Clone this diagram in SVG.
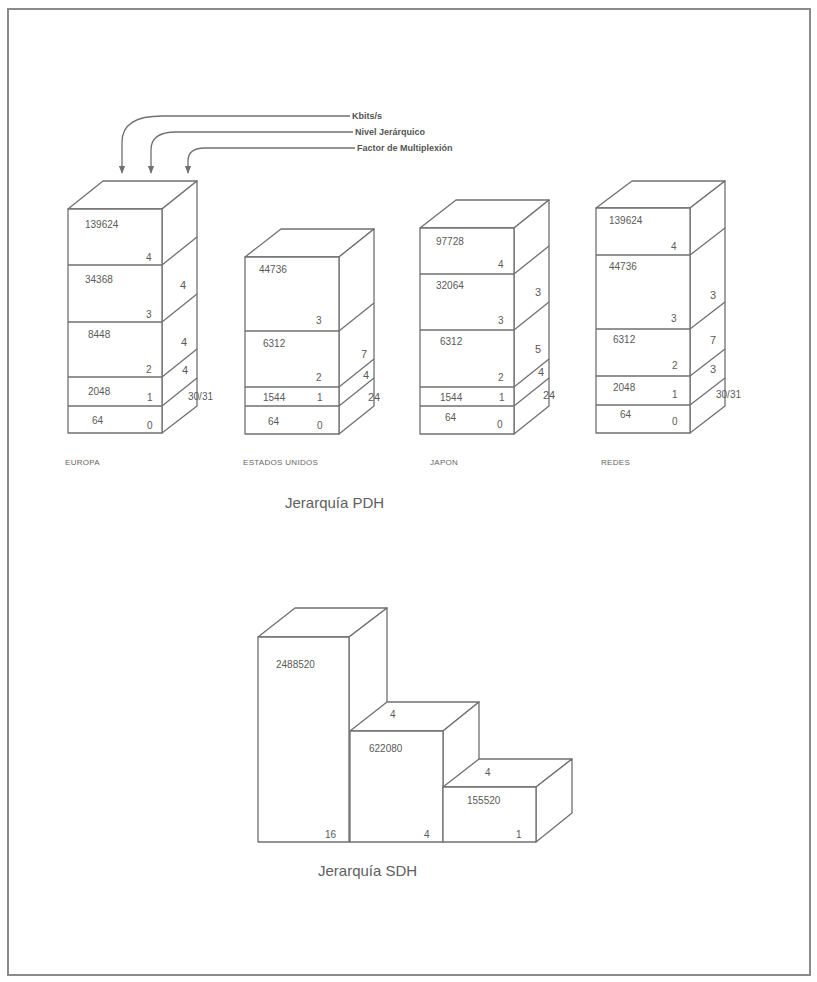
<svg xmlns="http://www.w3.org/2000/svg" width="817" height="982" viewBox="0 0 817 982">
<defs>
<style>
.ln{fill:none;stroke:#707070;stroke-width:1.3;stroke-linejoin:round}
.bx{fill:#fff;stroke:#707070;stroke-width:1.3;stroke-linejoin:round}
.t{font-family:"Liberation Sans",Arial,sans-serif;font-size:10px;fill:#5a5a5a}
.r{font-family:"Liberation Sans",Arial,sans-serif;font-size:11px;fill:#5a5a5a}
.lab{font-family:"Liberation Sans",Arial,sans-serif;font-size:8px;fill:#666;letter-spacing:0.3px}
.hd{font-family:"Liberation Sans",Arial,sans-serif;font-size:9px;font-weight:bold;fill:#555}
.ttl{font-family:"Liberation Sans",Arial,sans-serif;font-size:15px;fill:#606060}
</style>
<marker id="ah" viewBox="0 0 10 10" refX="9" refY="5" markerWidth="7" markerHeight="6" orient="auto">
<path d="M0,1 L10,5 L0,9 z" fill="#707070"/>
</marker>
</defs>
<rect x="0" y="0" width="817" height="982" fill="#fff"/>
<rect x="8" y="9" width="802" height="966" fill="none" stroke="#8a8a8a" stroke-width="2"/>

<g id="connectors">
<path class="ln" d="M350,116 H162 C136,116 122,124 122,142 V173" marker-end="url(#ah)"/>
<path class="ln" d="M353,132 H176 C160,132 151,138 151,150 V173" marker-end="url(#ah)"/>
<path class="ln" d="M355,148 H205 C194,148 188,152 188,161 V173" marker-end="url(#ah)"/>
</g>
<g id="legend">
<text class="hd" x="352" y="119">Kbits/s</text>
<text class="hd" x="355" y="135">Nivel Jerárquico</text>
<text class="hd" x="357" y="151">Factor de Multiplexión</text>
</g>

<g id="europa">
<polygon class="bx" points="68,209 103,181 197,181 162,209"/>
<polygon class="bx" points="162,209 197,181 197,406 162,433"/>
<rect class="bx" x="68" y="209" width="94" height="224"/>
<path class="ln" d="M68,265H162L197,237 M68,322H162L197,294 M68,377H162L197,349 M68,406H162L197,378"/>
<text class="t" x="85" y="228">139624</text><text class="t" x="146" y="261">4</text>
<text class="t" x="85" y="283">34368</text><text class="t" x="146" y="318">3</text>
<text class="t" x="88" y="338">8448</text><text class="t" x="146" y="373">2</text>
<text class="t" x="88" y="395">2048</text><text class="t" x="147" y="401">1</text>
<text class="t" x="92" y="424">64</text><text class="t" x="147" y="429">0</text>
<text class="r" x="180" y="289">4</text>
<text class="r" x="181" y="346">4</text>
<text class="r" x="182" y="374">4</text>
<text class="t" x="188" y="400">30/31</text>
<text class="lab" x="65" y="465">EUROPA</text>
</g>

<g id="estados-unidos">
<polygon class="bx" points="245,257 281,229 374,229 339,257"/>
<polygon class="bx" points="339,257 374,229 374,406 339,434"/>
<rect class="bx" x="245" y="257" width="94" height="177"/>
<path class="ln" d="M245,331H339L374,303 M245,387H339L374,359 M245,406H339L374,378"/>
<text class="t" x="259" y="273">44736</text><text class="t" x="316" y="324">3</text>
<text class="t" x="263" y="347">6312</text><text class="t" x="316" y="381">2</text>
<text class="t" x="263" y="401">1544</text><text class="t" x="317" y="401">1</text>
<text class="t" x="268" y="425">64</text><text class="t" x="317" y="429">0</text>
<text class="r" x="361" y="358">7</text>
<text class="r" x="363" y="379">4</text>
<text class="r" x="368" y="401">24</text>
<text class="lab" x="243" y="465">ESTADOS UNIDOS</text>
</g>

<g id="japon">
<polygon class="bx" points="420,228 456,200 549,200 514,228"/>
<polygon class="bx" points="514,228 549,200 549,406 514,434"/>
<rect class="bx" x="420" y="228" width="94" height="206"/>
<path class="ln" d="M420,274H514L549,246 M420,330H514L549,302 M420,387H514L549,359 M420,406H514L549,378"/>
<text class="t" x="436" y="245">97728</text><text class="t" x="498" y="268">4</text>
<text class="t" x="436" y="289">32064</text><text class="t" x="498" y="324">3</text>
<text class="t" x="440" y="345">6312</text><text class="t" x="498" y="381">2</text>
<text class="t" x="440" y="401">1544</text><text class="t" x="499" y="401">1</text>
<text class="t" x="445" y="421">64</text><text class="t" x="497" y="428">0</text>
<text class="r" x="535" y="296">3</text>
<text class="r" x="535" y="353">5</text>
<text class="r" x="538" y="376">4</text>
<text class="r" x="543" y="399">24</text>
<text class="lab" x="430" y="465">JAPON</text>
</g>

<g id="redes">
<polygon class="bx" points="596,208 632,181 725,181 690,208"/>
<polygon class="bx" points="690,208 725,181 725,406 690,433"/>
<rect class="bx" x="596" y="208" width="94" height="225"/>
<path class="ln" d="M596,255H690L725,228 M596,329H690L725,302 M596,376H690L725,349 M596,405H690L725,378"/>
<text class="t" x="609" y="224">139624</text><text class="t" x="671" y="250">4</text>
<text class="t" x="609" y="270">44736</text><text class="t" x="671" y="322">3</text>
<text class="t" x="613" y="343">6312</text><text class="t" x="672" y="369">2</text>
<text class="t" x="613" y="391">2048</text><text class="t" x="672" y="398">1</text>
<text class="t" x="620" y="418">64</text><text class="t" x="672" y="425">0</text>
<text class="r" x="710" y="299">3</text>
<text class="r" x="710" y="344">7</text>
<text class="r" x="710" y="373">3</text>
<text class="t" x="716" y="398">30/31</text>
<text class="lab" x="601" y="465">REDES</text>
</g>

<text class="ttl" x="285" y="508">Jerarquía PDH</text>

<g id="sdh-stm16">
<polygon class="bx" points="258,637 295,608 387,608 349,637"/>
<polygon class="bx" points="349,637 387,608 387,810 349,842"/>
<rect class="bx" x="258" y="637" width="91" height="205"/>
<text class="t" x="276" y="668">2488520</text>
<text class="t" x="325" y="838">16</text>
</g>
<g id="sdh-stm4">
<polygon class="bx" points="350,731 387,702 479,702 443,731"/>
<polygon class="bx" points="443,731 479,702 479,813 443,842"/>
<rect class="bx" x="350" y="731" width="93" height="111"/>
<text class="t" x="390" y="718">4</text>
<text class="t" x="369" y="752">622080</text>
<text class="t" x="424" y="838">4</text>
</g>
<g id="sdh-stm1">
<polygon class="bx" points="443,787 479,759 572,759 536,787"/>
<polygon class="bx" points="536,787 572,759 572,813 536,842"/>
<rect class="bx" x="443" y="787" width="93" height="55"/>
<text class="t" x="485" y="776">4</text>
<text class="t" x="467" y="804">155520</text>
<text class="t" x="516" y="838">1</text>
</g>

<text class="ttl" x="318" y="876">Jerarquía SDH</text>
</svg>
